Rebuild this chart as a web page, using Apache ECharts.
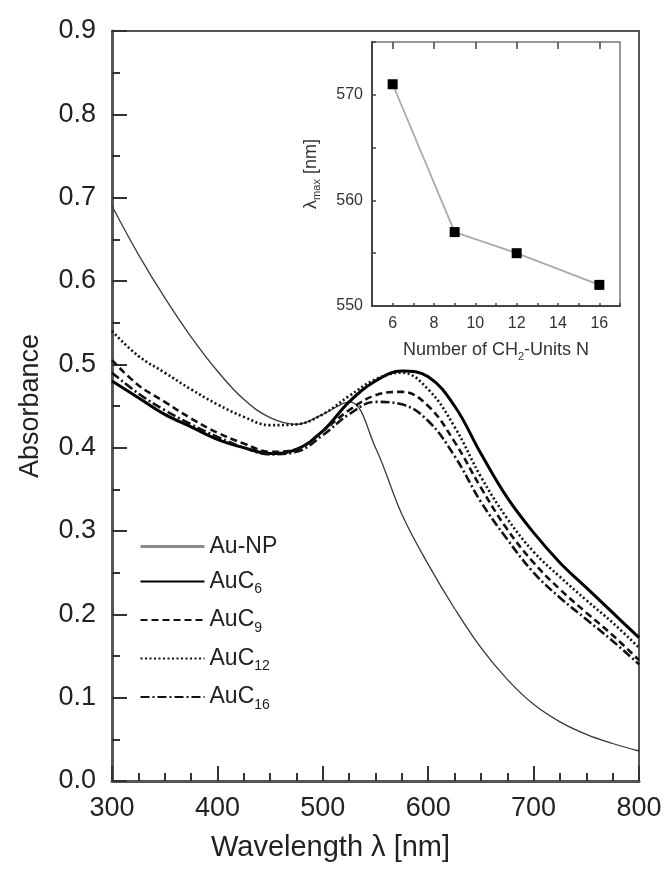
<!DOCTYPE html>
<html>
<head>
<meta charset="utf-8">
<script src="https://cdn.jsdelivr.net/npm/echarts@6/dist/echarts.min.js"></script>
<style>
  html, body { margin: 0; padding: 0; background: #fff; }
  #chart { width: 667px; height: 875px; }
</style>
</head>
<body>
<div id="chart"></div>
<script>
// UV-Vis absorbance spectra (wavelength in nm)
const wavelengths = [300, 325, 350, 375, 400, 425, 450, 475, 500, 525, 550, 575, 600, 625, 650, 675, 700, 725, 750, 775, 800];
const absAuNP  = [0.690, 0.632, 0.580, 0.533, 0.492, 0.458, 0.436, 0.428, 0.440, 0.455, 0.400, 0.320, 0.260, 0.207, 0.160, 0.122, 0.092, 0.071, 0.056, 0.045, 0.036];
const absAuC6  = [0.480, 0.460, 0.440, 0.425, 0.410, 0.400, 0.393, 0.398, 0.420, 0.455, 0.480, 0.492, 0.485, 0.450, 0.393, 0.340, 0.298, 0.262, 0.232, 0.202, 0.172];
const absAuC9  = [0.505, 0.475, 0.455, 0.435, 0.418, 0.405, 0.395, 0.398, 0.420, 0.445, 0.463, 0.467, 0.450, 0.407, 0.352, 0.302, 0.262, 0.230, 0.202, 0.175, 0.145];
const absAuC12 = [0.540, 0.510, 0.490, 0.470, 0.452, 0.437, 0.427, 0.428, 0.440, 0.462, 0.482, 0.490, 0.470, 0.425, 0.365, 0.315, 0.275, 0.245, 0.217, 0.190, 0.160];
const absAuC16 = [0.490, 0.465, 0.445, 0.428, 0.413, 0.400, 0.392, 0.395, 0.415, 0.440, 0.455, 0.452, 0.432, 0.390, 0.335, 0.290, 0.250, 0.220, 0.194, 0.168, 0.140];

// Inset: plasmon peak position vs. number of CH2 units
const chainLengths = [6, 9, 12, 16];
const lambdaMax = [571, 557, 555, 552];
const insetTicksN = [6, 8, 10, 12, 14, 16];
const insetTicksLambda = [550, 560, 570];

const FONT = '"Liberation Sans", Arial, sans-serif';
const pairs = (ys) => wavelengths.map((x, i) => [x, ys[i]]);

const chart = echarts.init(document.getElementById('chart'), null, { renderer: 'canvas' });

const spectra = [
  { name: 'Au-NP', data: absAuNP,  color: '#3a3a3a', width: 1.3, type: 'solid' },
  { name: 'AuC6',  data: absAuC6,  color: '#000',    width: 3,   type: 'solid' },
  { name: 'AuC9',  data: absAuC9,  color: '#111',    width: 2.6, type: [7, 4] },
  { name: 'AuC12', data: absAuC12, color: '#111',    width: 2.6, type: [2, 2.5] },
  { name: 'AuC16', data: absAuC16, color: '#111',    width: 2.6, type: [9, 3, 2, 3] }
];

const option = {
  animation: false,
  backgroundColor: '#fff',
  textStyle: { fontFamily: FONT },
  grid: [
    { left: 112, top: 31, right: 28, bottom: 94, show: true, borderColor: '#555', borderWidth: 2 },
    { left: 372, top: 42, width: 248, height: 264, show: true, borderColor: '#777', borderWidth: 1.5, backgroundColor: '#fff' }
  ],
  legend: {
    data: spectra.map(s => s.name === 'Au-NP'
      ? { name: s.name, lineStyle: { color: '#8a8a8a', width: 3 } }
      : { name: s.name }),
    orient: 'vertical',
    left: 139,
    top: 535,
    padding: 0,
    itemWidth: 64,
    itemHeight: 14,
    itemGap: 12,
    selectedMode: false,
    itemStyle: { opacity: 0 },
    formatter: (name) => {
      if (name.startsWith('AuC')) return '{a|AuC}{s|' + name.slice(3) + '}';
      return '{a|' + name + '}';
    },
    textStyle: {
      fontFamily: FONT,
      color: '#222',
      rich: {
        a: { fontSize: 23, fontFamily: FONT, color: '#222', lineHeight: 26 },
        s: { fontSize: 14, fontFamily: FONT, color: '#222', padding: [16, 0, 0, 0] }
      }
    }
  },
  xAxis: [
    {
      gridIndex: 0, type: 'value', min: 300, max: 800, interval: 100,
      name: 'Wavelength λ [nm]', nameLocation: 'middle', nameGap: 52,
      nameTextStyle: { fontSize: 29, color: '#222', fontFamily: FONT, padding: [0, 90, 0, 0] },
      axisLine: { show: true, lineStyle: { color: '#555', width: 3 } },
      axisTick: { show: true, inside: true, length: 15, lineStyle: { color: '#333', width: 2 } },
      minorTick: { show: true, splitNumber: 4, length: 8, lineStyle: { color: '#333', width: 2 } },
      axisLabel: { fontSize: 27, color: '#222', margin: 14, fontFamily: FONT },
      splitLine: { show: false }
    },
    {
      gridIndex: 1, type: 'value', min: 5, max: 17, interval: 1,
      name: 'Number of CH{s|2}-Units N', nameLocation: 'middle', nameGap: 33,
      nameTextStyle: {
        fontSize: 18, color: '#333', fontFamily: FONT,
        rich: { s: { fontSize: 11, color: '#333', fontFamily: FONT, padding: [12, 0, 0, 0] } }
      },
      axisLine: { show: true, lineStyle: { color: '#444', width: 2 } },
      axisTick: { show: true, inside: true, length: 3, lineStyle: { color: '#444', width: 1.5 } },
      axisLabel: { fontSize: 16, color: '#333', margin: 10, fontFamily: FONT, customValues: insetTicksN },
      splitLine: { show: false }
    },
    {
      gridIndex: 1, type: 'value', min: 5, max: 17,
      axisLine: { show: false },
      axisTick: { show: true, inside: true, length: 7, lineStyle: { color: '#444', width: 1.5 }, customValues: insetTicksN },
      axisLabel: { show: false },
      splitLine: { show: false }
    }
  ],
  yAxis: [
    {
      gridIndex: 0, type: 'value', min: 0, max: 0.9, interval: 0.1,
      name: 'Absorbance', nameLocation: 'middle', nameGap: 68,
      nameTextStyle: { fontSize: 27, color: '#222', fontFamily: FONT },
      axisLine: { show: true, lineStyle: { color: '#555', width: 3 } },
      axisTick: { show: true, inside: true, length: 15, lineStyle: { color: '#333', width: 2 } },
      minorTick: { show: true, splitNumber: 2, length: 8, lineStyle: { color: '#333', width: 2 } },
      axisLabel: { fontSize: 27, color: '#222', margin: 16, fontFamily: FONT, formatter: v => v.toFixed(1) },
      splitLine: { show: false }
    },
    {
      gridIndex: 1, type: 'value', min: 550, max: 575, interval: 5,
      name: 'λ{s|max} [nm]', nameLocation: 'middle', nameGap: 50,
      nameTextStyle: {
        fontSize: 18, color: '#333', fontFamily: FONT,
        rich: { s: { fontSize: 11, color: '#333', fontFamily: FONT, padding: [10, 0, 0, 0] } }
      },
      axisLine: { show: true, lineStyle: { color: '#444', width: 2 } },
      axisTick: { show: true, inside: true, length: 4, lineStyle: { color: '#444', width: 1.5 } },
      axisLabel: { fontSize: 16, color: '#333', margin: 9, fontFamily: FONT, customValues: insetTicksLambda },
      splitLine: { show: false }
    }
  ],
  series: spectra.map(s => ({
    name: s.name,
    type: 'line',
    xAxisIndex: 0, yAxisIndex: 0,
    data: pairs(s.data),
    smooth: 0.4,
    symbol: 'none',
    color: s.color,
    lineStyle: { color: s.color, width: s.width, type: s.type },
    z: 3
  })).concat([{
    name: 'λmax',
    type: 'line',
    xAxisIndex: 1, yAxisIndex: 1,
    data: chainLengths.map((n, i) => [n, lambdaMax[i]]),
    symbol: 'rect',
    symbolSize: 10,
    itemStyle: { color: '#000' },
    lineStyle: { color: '#aaa', width: 1.8 },
    z: 5
  }])
};

chart.setOption(option);
</script>
</body>
</html>
